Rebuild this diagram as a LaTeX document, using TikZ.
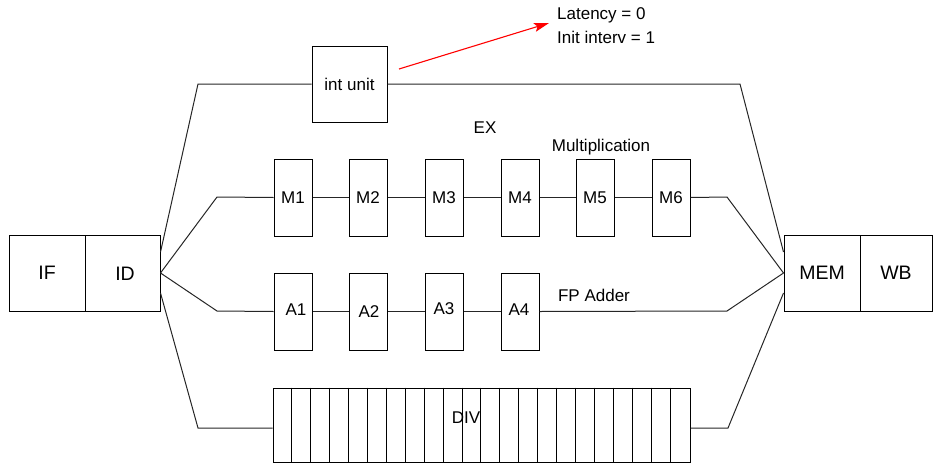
\documentclass[tikz,border=0pt]{standalone}
\usepackage{fontspec}
\setmainfont{Liberation Sans}
\usetikzlibrary{arrows.meta}
\begin{document}
\begin{tikzpicture}[x=1pt,y=-1pt,
  every node/.style={font=\fontsize{17}{24}\selectfont, inner sep=0pt},
  bigtext/.style={font=\fontsize{19.5}{24}\selectfont},
  stage/.style={draw=black, line width=1pt, minimum width=38pt, minimum height=77pt},
  bigbox/.style={draw=black, line width=1pt, minimum width=#1, minimum height=76pt},
  wire/.style={draw=black!85, line width=1pt}]
\useasboundingbox (0,0) rectangle (933,463);
% pipeline ends
\node[bigbox=76pt, bigtext] (IF) at (47,273) {IF};
\node[bigbox=75pt] (ID) at (122.5,273) {};
\node[bigtext] at (125,274) {ID};
\node[bigbox=76pt, bigtext] (MEM) at (822,273) {MEM};
\node[bigbox=72pt, bigtext] (WB) at (896,273) {WB};
% int unit
\node[bigbox=75pt] (INT) at (349.5,84) {int unit};
% multiplier
\foreach \n/\x in {1/293,2/368,3/444,4/520,5/595,6/671}
  \node[stage] (M\n) at (\x,197.5) {M\n};
% adder
\foreach \n/\x in {1/293,2/368,3/444,4/520}
  \node[stage] (A\n) at (\x,311.5) {};
\node at (296,310) {A1};
\node at (369,312) {A2};
\node at (444,309) {A3};
\node at (519,310) {A4};
% divider
\node[draw=black, line width=1pt, minimum width=417pt, minimum height=74pt] (DIV) at (481.5,425) {};
\foreach \i in {1,...,21}
  \draw[black, line width=1pt] ([xshift=\i*18.95pt]DIV.north west) -- ([xshift=\i*18.95pt]DIV.south west);
\node at (466,418) {DIV};
% labels
\node (EX) at (485,128) {EX};
\node (MUL) at (601,147) {Multiplication};
\node (FPA) at (594,295) {FP Adder};
\node[align=left, anchor=west] (LAT) at (557,26) {Latency = 0\\Init interv = 1};
% bend points
\coordinate (ia) at (198,84);
\coordinate (ib) at (740,84);
\coordinate (ma) at (217,197);
\coordinate (mb) at (727,197);
\coordinate (aa) at (217,311);
\coordinate (ab) at (727,311);
\coordinate (da) at (198,428);
\coordinate (db) at (728,428);
\coordinate (arr) at (399,69);
% connectors
\draw[wire] ([yshift=21pt]ID.east) -- (ia) -- (INT.west);
\draw[wire] (INT.east) -- (ib) -- ([yshift=21pt]MEM.west);
\draw[wire] (ID.east) -- (ma) -- (M1.west);
\draw[wire] (M1.east) -- (M2.west);
\draw[wire] (M2.east) -- (M3.west);
\draw[wire] (M3.east) -- (M4.west);
\draw[wire] (M4.east) -- (M5.west);
\draw[wire] (M5.east) -- (M6.west);
\draw[wire] (M6.east) -- (mb) -- (MEM.west);
\draw[wire] (ID.east) -- (aa) -- (A1.west);
\draw[wire] (A1.east) -- (A2.west);
\draw[wire] (A2.east) -- (A3.west);
\draw[wire] (A3.east) -- (A4.west);
\draw[wire] (A4.east) -- (ab) -- (MEM.west);
\draw[wire] ([yshift=-20pt]ID.east) -- (da) -- (DIV.west |- da);
\draw[wire] (DIV.east |- db) -- (db) -- ([yshift=-20pt]MEM.west);
\draw[red, line width=1.1pt, -{Stealth[length=15pt, width=9pt, inset=3pt]}] (arr) -- ([xshift=-8pt,yshift=3pt]LAT.west);
\end{tikzpicture}
\end{document}
